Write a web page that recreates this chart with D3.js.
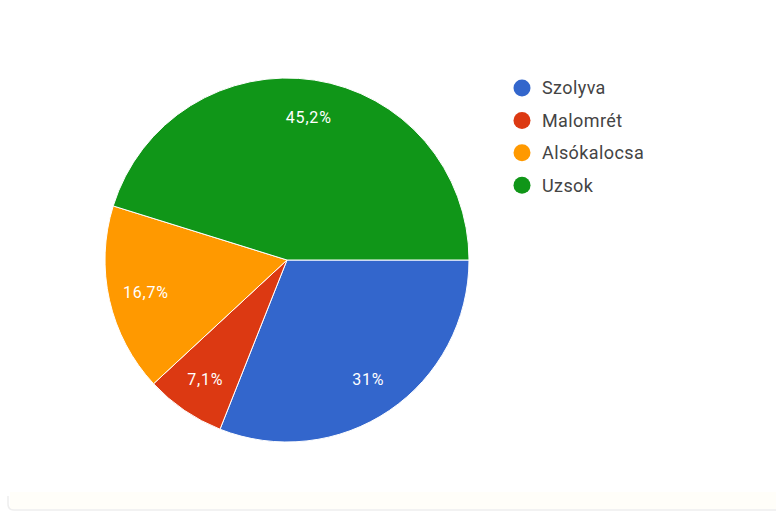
<!DOCTYPE html>
<html>
<head>
<meta charset="utf-8">
<script src="https://cdn.jsdelivr.net/npm/d3@7"></script>
<style>
  html, body { margin: 0; padding: 0; background: #fff; }
  #chart { width: 776px; height: 513px; }
</style>
</head>
<body>
<div id="chart"></div>
<script>
// adatok
const categories = ['Szolyva', 'Malomrét', 'Alsókalocsa', 'Uzsok']
const values = [31, 7.1, 16.7, 45.2]
const colors = ['#3366cc', '#dc3912', '#ff9900', '#109618']

const width = 776, height = 513
const cx = 287, cy = 260, radius = 182

const svg = d3.select('#chart')
  .append('svg')
  .attr('width', width)
  .attr('height', height)

// halvány kártya árnyék alul
svg.append('rect')
  .attr('x', 10).attr('y', 492)
  .attr('width', width - 10).attr('height', 17)
  .style('fill', '#fffef9')
svg.append('path')
  .attr('d', `M8,496 L8,504 Q8,510 14,510 L${width},510`)
  .style('fill', 'none')
  .style('stroke', '#eeeeee')
  .style('stroke-width', 1.5)

const color = d3.scaleOrdinal().domain(categories).range(colors)

const pie = d3.pie()
  .sort(null)
  .value(d => d.value)
  .startAngle(Math.PI / 2)
  .endAngle(Math.PI / 2 + 2 * Math.PI)

const data = categories.map((c, i) => ({ name: c, value: values[i] }))
const arcs = pie(data)

const arc = d3.arc().innerRadius(0).outerRadius(radius)
const labelArc = d3.arc().innerRadius(radius * 0.795).outerRadius(radius * 0.795)

const g = svg.append('g').attr('transform', `translate(${cx},${cy})`)

g.selectAll('path')
  .data(arcs)
  .enter()
  .append('path')
    .attr('d', arc)
    .style('fill', d => color(d.data.name))
    .style('stroke', '#fff')
    .style('stroke-width', 1)

const fmt = v => String(+v.toFixed(1)).replace('.', ',') + '%'

g.selectAll('text')
  .data(arcs)
  .enter()
  .append('text')
    .attr('transform', d => `translate(${labelArc.centroid(d)})`)
    .attr('text-anchor', 'middle')
    .attr('dy', '0.35em')
    .style('font-family', 'Roboto, Arial, sans-serif')
    .style('font-size', '16px')
    .style('letter-spacing', '0.8px')
    .style('fill', '#fff')
    .text(d => fmt(d.data.value))

// jelmagyarázat
const legend = svg.append('g').attr('transform', 'translate(522,88)')
const row = legend.selectAll('g')
  .data(categories)
  .enter()
  .append('g')
    .attr('transform', (d, i) => `translate(0,${i * 32.4})`)

row.append('circle')
  .attr('r', 8.5)
  .style('fill', d => color(d))

row.append('text')
  .attr('x', 20)
  .attr('dy', '0.36em')
  .style('font-family', 'Roboto, Arial, sans-serif')
  .style('font-size', '18px')
  .style('letter-spacing', '0.4px')
  .style('fill', '#444')
  .text(d => d)
</script>
</body>
</html>
